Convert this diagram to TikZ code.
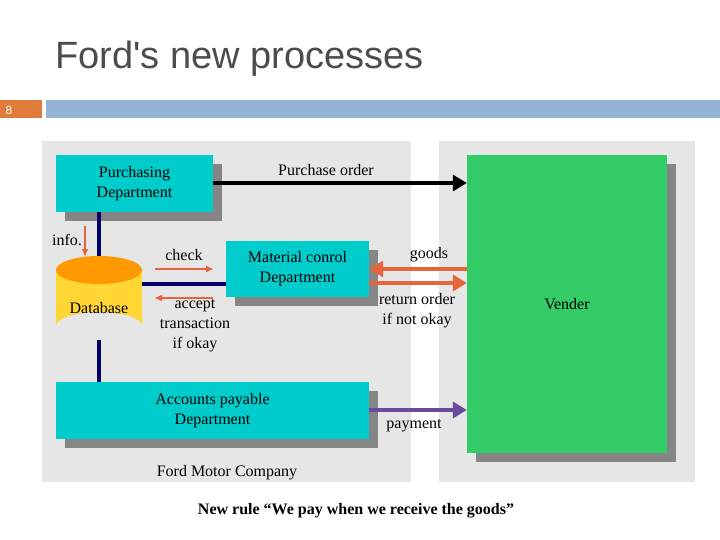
\documentclass[tikz,border=0pt]{standalone}
\usepackage{fontspec}
\setmainfont{Liberation Serif}
\newfontfamily\titlefont{Liberation Sans}
\usetikzlibrary{arrows.meta,shapes.geometric}
\definecolor{panel}{HTML}{E6E6E6}
\definecolor{cyanbox}{HTML}{00CCCC}
\definecolor{shadowc}{HTML}{858585}
\definecolor{vgreen}{HTML}{33CC66}
\definecolor{navy}{HTML}{000066}
\definecolor{orng}{HTML}{E8643C}
\definecolor{purp}{HTML}{6A4A9C}
\definecolor{barblue}{HTML}{95B3D7}
\definecolor{barorange}{HTML}{E07B39}
\definecolor{dbtop}{HTML}{FF9900}
\definecolor{dbbody}{HTML}{FFD633}
\tikzset{
 lbl/.style={font=\fontsize{16}{20}\selectfont, align=center, inner sep=0pt},
 dept/.style={fill=cyanbox, draw=none, inner sep=0pt, font=\fontsize{16}{20}\selectfont, align=center},
 shade/.style={fill=shadowc, draw=none},
 bigarrow/.style={line width=4.5pt, -{Triangle[length=14pt,width=16pt]}},
 thinarrow/.style={orng, line width=1.5pt, -{Triangle[length=7pt,width=6pt]}},
 link/.style={navy, line width=3.5pt}
}
\begin{document}
\begin{tikzpicture}[x=1pt,y=-1pt]
\useasboundingbox (0,0) rectangle (720,540);
% header
\node[anchor=west, font=\titlefont\fontsize{38}{40}\selectfont, text=black!70, inner sep=0pt] (title) at (55,59) {Ford's new processes};
\fill[barorange] (0,100) rectangle (42,118);
\fill[barblue] (46,100) rectangle (720,118);
\node[font=\titlefont\fontsize{12}{13}\selectfont, text=white, inner sep=0pt] (pg) at (9,110) {8};
% panels
\fill[panel] (42,141) rectangle (411,482);
\fill[panel] (439,141) rectangle (695,482);
% shadows
\fill[shade] (65,164) rectangle (222,221);
\fill[shade] (235,250) rectangle (378,306);
\fill[shade] (65,391) rectangle (378,448);
\fill[shade] (476,164) rectangle (676,462);
% boxes
\node[dept, minimum width=157pt, minimum height=57pt] (pd) at (134.5,183.5) {Purchasing\\Department};
\node[dept, minimum width=143pt, minimum height=56pt] (mc) at (297.5,269) {Material conrol\\Department};
\node[dept, minimum width=313pt, minimum height=57pt] (ap) at (212.5,410.5) {Accounts payable\\Department};
\node[fill=vgreen, minimum width=200pt, minimum height=298pt, inner sep=0pt, font=\fontsize{16}{20}\selectfont] (v) at (567,304) {Vender};
% database
\fill[dbbody] (56,270) -- (56,326) arc[start angle=180,end angle=0,x radius=43pt,y radius=14pt] -- (142,270) -- cycle;
\fill[dbtop] (99,270) ellipse[x radius=43pt, y radius=14pt];
\node[lbl] (db) at (99,308) {Database};
\coordinate (dbt) at (99,256);
\coordinate (dbb) at (99,340);
\coordinate (dbr) at (142,284);
% links
\draw[link] (pd.south -| dbt) -- (dbt);
\draw[link] (dbb) -- (ap.north -| dbb);
\draw[link] (dbr) -- (mc.west |- dbr);
% arrows to vender
\draw[bigarrow, black] (pd.east |- 0,183) -- (v.west |- 0,183);
\draw[bigarrow, orng] (v.west |- 0,269) -- (mc.east |- 0,269);
\draw[bigarrow, orng] (mc.east |- 0,283) -- (v.west |- 0,283);
\draw[bigarrow, purp] (ap.east |- 0,410) -- (v.west |- 0,410);
% thin arrows
\coordinate (c1) at (155,269); \coordinate (c2) at (213,269);
\coordinate (a1) at (213,298); \coordinate (a2) at (155,298);
\coordinate (i1) at (85,226); \coordinate (i2) at (85,256);
\draw[thinarrow] (c1) -- (c2);
\draw[thinarrow] (a1) -- (a2);
\draw[thinarrow] (i1) -- (i2);
% labels
\node[lbl] (lpo) at (326,170) {Purchase order};
\node[lbl] (linfo) at (67,240) {info.};
\node[lbl] (lcheck) at (184,255) {check};
\node[lbl] (lacc) at (195,326) {accept\\transaction\\if okay};
\node[lbl] (lgoods) at (429,255) {goods};
\node[lbl] (lret) at (417,311) {return order\\if not okay};
\node[lbl] (lpay) at (414,426) {payment};
\node[lbl] (lford) at (227,473) {Ford Motor Company};
\node[lbl, font=\bfseries\fontsize{16}{20}\selectfont] (lrule) at (356,511) {New rule “We pay when we receive the goods”};
\end{tikzpicture}
\end{document}
